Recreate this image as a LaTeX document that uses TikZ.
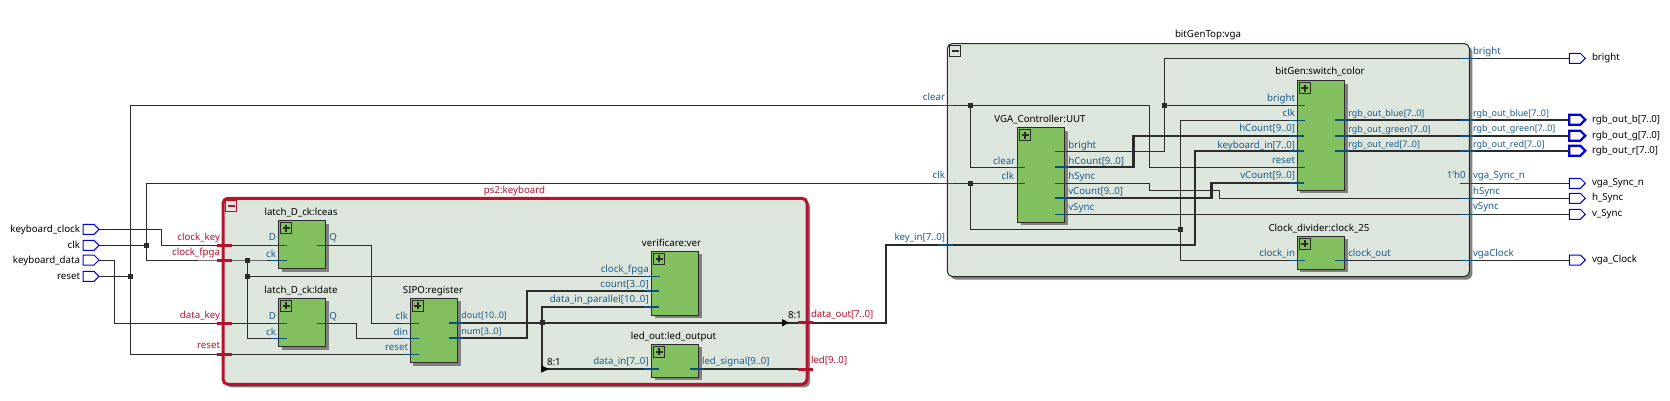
\documentclass[tikz,border=0pt]{standalone}
\usepackage{fontspec}
\setmainfont{Noto Sans}
\usetikzlibrary{shapes.symbols,shadows,calc}
\definecolor{wirec}{HTML}{2B2B2B}
\definecolor{stubc}{HTML}{0B4F80}
\definecolor{grpc}{HTML}{DDE6DD}
\definecolor{blkc}{HTML}{82BF5F}
\definecolor{redc}{HTML}{B5122F}
\definecolor{txtb}{HTML}{1D5C8C}
\definecolor{pinc}{HTML}{0000E6}
\newcommand\dd{\kern-.3pt.\kern.2pt.\kern-.3pt}
\tikzset{
 every node/.style={inner sep=0pt,outer sep=0pt,font=\fontsize{9.7}{10}\selectfont},
 wire/.style={draw=wirec,line width=1pt},
 bus/.style={draw=wirec,line width=2.4pt},
 stub/.style={draw=stubc,line width=1pt},
 bstub/.style={draw=stubc,line width=2.4pt},
 redbar/.style={draw=redc,line width=3pt},
 block/.style={draw=wirec,line width=1pt,fill=blkc,anchor=north west,general shadow={shadow xshift=3pt,shadow yshift=-3pt,fill=black!50}},
 group/.style={fill=grpc,anchor=north west,rounded corners=5pt,general shadow={shadow xshift=3pt,shadow yshift=-3pt,fill=black!50}},
 plusbox/.style={draw=wirec,line width=1pt,fill=blkc,anchor=north west,minimum size=11pt,
   path picture={\draw[line width=1.8pt,wirec] ([yshift=-2pt]path picture bounding box.north) -- ([yshift=2pt]path picture bounding box.south) ([xshift=2pt]path picture bounding box.west) -- ([xshift=-2pt]path picture bounding box.east);}},
 minusbox/.style={line width=1pt,anchor=north west,minimum size=11pt,
   path picture={\draw[line width=1.8pt,#1] ([xshift=2pt]path picture bounding box.west) -- ([xshift=-2pt]path picture bounding box.east);}},
 junc/.style={fill=wirec,minimum size=5pt},
 pin/.style={signal,signal to=east,draw=pinc,line width=1pt,minimum width=16pt,minimum height=10pt,anchor=west},
 bpin/.style={pin,line width=2.2pt},
 ttl/.style={anchor=base,text=black},
 le/.style={anchor=base east,text=txtb},
 lw/.style={anchor=base west,text=txtb},
 re/.style={anchor=base east,text=redc},
 rw/.style={anchor=base west,text=redc},
 pe/.style={anchor=base east,text=black},
 pw/.style={anchor=base west,text=black},
 nar/.style={font=\fontsize{9}{10}\selectfont},
 head/.style={fill=black}
}
\begin{document}
\begin{tikzpicture}[x=1pt,y=-1pt]
\useasboundingbox (0,0) rectangle (1670,400);
% groups
\node[group,draw=redc,line width=3pt,minimum width=584pt,minimum height=186pt] (ps) at (223,198.3) {};
\node[group,draw=wirec,line width=1pt,minimum width=522pt,minimum height=233pt] (vga) at (947.3,43.5) {};
\node[minusbox=redc,draw=redc] (psm) at (225.7,200.7) {};
\node[minusbox=wirec,draw=wirec] (vgam) at (949.5,45.7) {};
% blocks
\node[block,minimum width=47pt,minimum height=48pt] (ceas) at (278.5,220.7) {};
\node[block,minimum width=47pt,minimum height=48.4pt] (date) at (278.5,298.3) {};
\node[block,minimum width=47.4pt,minimum height=64.4pt] (sipo) at (410.3,298.3) {};
\node[block,minimum width=47pt,minimum height=64pt] (ver) at (651.7,251.3) {};
\node[block,minimum width=47pt,minimum height=33pt] (led) at (651.7,344.3) {};
\node[block,minimum width=47pt,minimum height=94.6pt] (uut) at (1017.7,127.7) {};
\node[block,minimum width=47.4pt,minimum height=109.6pt] (bit) at (1297.3,80.7) {};
\node[block,minimum width=47.4pt,minimum height=33pt] (div) at (1297.3,236.3) {};
\foreach \b in {ceas,date,sipo,ver,led,uut,bit,div}
  \node[plusbox] (p\b) at ($(\b.north west)+(2,2)$) {};
% pins
\node[pin] (iKc) at (83,229.3) {};
\node[pin] (iClk) at (83,245.3) {};
\node[pin] (iKd) at (83,260) {};
\node[pin] (iRst) at (83,276.3) {};
\node[pin] (oBright) at (1569.3,58.3) {};
\node[bpin] (oB) at (1569.3,119.7) {};
\node[bpin] (oG) at (1569.3,135.7) {};
\node[bpin] (oR) at (1569.3,150.7) {};
\node[pin] (oSn) at (1569.3,183.3) {};
\node[pin] (oHs) at (1569.3,198.3) {};
\node[pin] (oVs) at (1569.3,214.3) {};
\node[pin] (oClk) at (1569.3,260) {};
% junctions
\node[junc] (jClkOut) at (146.3,245.3) {};
\node[junc] (jRstOut) at (130.3,276.3) {};
\node[junc] (jFpga) at (247.5,260) {};
\node[junc] (jFpga2) at (247.5,276.3) {};
\node[junc] (jDout) at (542,322.7) {};
\node[junc] (jClear) at (970.3,105.3) {};
\node[junc] (jClk) at (970.3,183.3) {};
\node[junc] (jClk2) at (1180.7,229.3) {};
\node[junc] (jBright) at (1164.3,105.3) {};
% port coordinates
\coordinate (ceasD) at (287,245.3);
\coordinate (ceasCk) at (287,260);
\coordinate (ceasQ) at (317,245.3);
\coordinate (dateD) at (287,323.3);
\coordinate (dateCk) at (287,338.3);
\coordinate (dateQ) at (317,323.3);
\coordinate (sipoClk) at (419,323.3);
\coordinate (sipoDin) at (419,338.3);
\coordinate (sipoRst) at (419,354.3);
\coordinate (sipoDout) at (449,322.7);
\coordinate (sipoNum) at (449,338);
\coordinate (verFpga) at (660,276.3);
\coordinate (verCnt) at (659,290.7);
\coordinate (verData) at (659,306.7);
\coordinate (ledIn) at (659,369);
\coordinate (ledOut) at (690,369);
\coordinate (psOut) at (813,322.7);
\coordinate (psLed) at (813,369);
\coordinate (uClear) at (1025,167);
\coordinate (uClk) at (1025,183.3);
\coordinate (uBright) at (1055,151.3);
\coordinate (uH) at (1055,166.7);
\coordinate (uHs) at (1055,183.3);
\coordinate (uV) at (1055,197.7);
\coordinate (uVs) at (1055,214.3);
\coordinate (bBright) at (1305,105.3);
\coordinate (bClk) at (1305,120);
\coordinate (bH) at (1304,135.7);
\coordinate (bK) at (1304,151);
\coordinate (bRst) at (1305,167);
\coordinate (bV) at (1304,182.7);
\coordinate (bB) at (1335,119.7);
\coordinate (bG) at (1335,135.7);
\coordinate (bR) at (1335,150.7);
\coordinate (dIn) at (1305,260);
\coordinate (dOut) at (1335,260);
\coordinate (zero) at (1460,183.3);
% wires
\draw[wire] (iKc.east) -- (161.7,229.3) -- (161.7,245.3) -- (ceasD);
\draw[wire] (iClk.east) -- (jClkOut.center);
\draw[wire] (jClkOut.center) -- (146.3,183.3) -- (jClk.center);
\draw[wire] (jClkOut.center) -- (146.3,260) -- (jFpga.center) -- (ceasCk);
\draw[wire] (jFpga.center) -- (jFpga2.center) -- (247.5,338.3) -- (dateCk);
\draw[wire] (jFpga2.center) -- (verFpga);
\draw[wire] (iKd.east) -- (114.7,260) -- (114.7,323.3) -- (dateD);
\draw[wire] (iRst.east) -- (jRstOut.center);
\draw[wire] (jRstOut.center) -- (130.3,354.3) -- (sipoRst);
\draw[wire] (jRstOut.center) -- (130.3,105.3) -- (jClear.center);
\draw[wire] (ceasQ) -- (371.5,245.3) -- (371.5,323.3) -- (sipoClk);
\draw[wire] (dateQ) -- (356.3,323.3) -- (356.3,338.3) -- (sipoDin);
\draw[bus] (sipoDout) -- (jDout.center) -- (psOut);
\draw[bus] (sipoNum) -- (527,338) -- (527,290.7) -- (verCnt);
\draw[bus] (jDout.center) -- (542,306.7) -- (verData);
\draw[bus] (jDout.center) -- (542,369) -- (ledIn);
\draw[bus] (ledOut) -- (psLed);
\draw[bus] (psOut) -- (886,322.7) -- (886,245) -- (1195,245) -- (1195,151) -- (bK);
\draw[wire] (jClear.center) -- (970.3,167) -- (uClear);
\draw[wire] (jClear.center) -- (1149.3,105.3) -- (1149.3,167) -- (bRst);
\draw[wire] (jClk.center) -- (uClk);
\draw[wire] (jClk.center) -- (970.3,229.3) -- (jClk2.center);
\draw[wire] (bClk) -- (1180.7,120) -- (1180.7,260) -- (dIn);
\draw[wire] (uBright) -- (1164.3,151.3) -- (jBright.center) -- (bBright);
\draw[wire] (jBright.center) -- (1164.3,58.3) -- (oBright.west);
\draw[bus] (uH) -- (1133.3,166.7) -- (1133.3,135.7) -- (bH);
\draw[wire] (uHs) -- (1149.3,183.3) -- (1149.3,190.3) -- (1219.3,190.3) -- (1219.3,198.3) -- (oHs.west);
\draw[bus] (uV) -- (1211.3,197.7) -- (1211.3,182.7) -- (bV);
\draw[wire] (uVs) -- (oVs.west);
\draw[bus] (bB) -- (oB.west);
\draw[bus] (bG) -- (oG.west);
\draw[bus] (bR) -- (oR.west);
\draw[wire] (zero) -- (oSn.west);
\draw[wire] (dOut) -- (oClk.west);
% ripper heads
\fill[head] (782,319) -- (789,322.7) -- (782,326.4) -- cycle;
\fill[head] (541,365.3) -- (549,369) -- (541,372.7) -- cycle;
% stubs
\foreach \c in {ceasD,ceasCk,dateD,dateCk,sipoClk,sipoDin,sipoRst,verFpga,uClear,uClk,bBright,bClk,bRst,dIn}
  \draw[stub] (\c) -- ++(-16,0);
\foreach \c in {verCnt,verData,ledIn,bH,bK,bV}
  \draw[bstub] (\c) -- ++(-15,0);
\foreach \c in {ceasQ,dateQ,uBright,uHs,uVs,dOut}
  \draw[stub] (\c) -- ++(12,0);
\foreach \c in {sipoDout,sipoNum,ledOut,uH,uV,bB,bG,bR}
  \draw[bstub] (\c) -- ++(14,0);
% boundary stubs
\draw[stub] (938,105.3) -- (953,105.3);
\draw[stub] (938,183.3) -- (953,183.3);
\draw[bstub] (938,245) -- (953,245);
\draw[stub] (1460,58.3) -- (1475,58.3);
\draw[bstub] (1460,119.7) -- (1475,119.7);
\draw[bstub] (1460,135.7) -- (1475,135.7);
\draw[bstub] (1460,150.7) -- (1475,150.7);
\draw[stub] (1460,183.3) -- (1475,183.3);
\draw[stub] (1460,198.3) -- (1475,198.3);
\draw[stub] (1460,214.3) -- (1475,214.3);
\draw[stub] (1460,260) -- (1475,260);
% group port bars
\draw[redbar] (216.7,245.3) -- (231.5,245.3);
\draw[redbar] (216.7,260) -- (231.5,260);
\draw[redbar] (216.7,323.3) -- (231.5,323.3);
\draw[redbar] (216.7,354.3) -- (231.5,354.3);
\draw[redbar] (798,322.7) -- (813,322.7);
\draw[redbar] (798,369) -- (813,369);
% titles
\node[ttl] (tPs) at (514.5,193) {\color{redc}ps2:keyboard};
\node[ttl] (tVga) at (1208,37) {bitGenTop:vga};
\node[ttl] (tCeas) at (301,215) {latch\_D\_ck:lceas};
\node[ttl] (tDate) at (301,293) {latch\_D\_ck:ldate};
\node[ttl] (tSipo) at (433,293) {SIPO:register};
\node[ttl] (tVer) at (671.5,246) {verificare:ver};
\node[ttl] (tLed) at (673.5,339) {led\_out:led\_output};
\node[ttl] (tUut) at (1040,122) {VGA\_Controller:UUT};
\node[ttl] (tBit) at (1320,74) {bitGen:switch\_color};
\node[ttl] (tDiv) at (1319,231) {Clock\_divider:clock\_25};
% top pin labels
\node[pe] (lKc) at (80,232.5) {keyboard\_clock};
\node[pe] (lClk) at (80,248.5) {clk};
\node[pe] (lKd) at (80,263.5) {keyboard\_data};
\node[pe] (lRst) at (80,279.5) {reset};
\node[pw] (lBright) at (1592,60) {bright};
\node[pw] (lB) at (1592,122.3) {rgb\_out\_b[7\dd0]};
\node[pw] (lG) at (1592,138) {rgb\_out\_g[7\dd0]};
\node[pw] (lR) at (1592,153.3) {rgb\_out\_r[7\dd0]};
\node[pw] (lSn) at (1592,185) {vga\_Sync\_n};
\node[pw] (lHs) at (1592,200) {h\_Sync};
\node[pw] (lVs) at (1592,216) {v\_Sync};
\node[pw] (lCk) at (1592,262) {vga\_Clock};
% ps2 ports
\node[re] (rKey) at (220,240) {clock\_key};
\node[re] (rFpga) at (220,255.3) {clock\_fpga};
\node[re] (rData) at (220,318) {data\_key};
\node[re] (rRst) at (220,348.7) {reset};
\node[rw] (rOut) at (811,317.7) {data\_out[7\dd0]};
\node[rw] (rLed) at (811,363.7) {led[9\dd0]};
% latch labels
\node[le] (a1) at (276,240) {D};
\node[le] (a2) at (276,257) {ck};
\node[lw] (a3) at (329.3,240) {Q};
\node[le] (a4) at (276,319) {D};
\node[le] (a5) at (276,335) {ck};
\node[lw] (a6) at (329.3,319) {Q};
% sipo
\node[le] (s1) at (408,319) {clk};
\node[le] (s2) at (408,335) {din};
\node[le] (s3) at (408,350) {reset};
\node[lw,nar] (s4) at (461.3,318.7) {dout[10\dd0]};
\node[lw,nar] (s5) at (461.3,334.7) {num[3\dd0]};
% ver, led
\node[le] (v1) at (648.7,272) {clock\_fpga};
\node[le] (v2) at (648.7,287.7) {count[3\dd0]};
\node[le] (v3) at (648.7,302.7) {data\_in\_parallel[10\dd0]};
\node[le] (v4) at (648.7,364.7) {data\_in[7\dd0]};
\node[lw] (v5) at (702,364.7) {led\_signal[9\dd0]};
\node[anchor=base west,text=black] (v6) at (788,318.7) {8:1};
\node[anchor=base west,text=black] (v7) at (547,365) {8:1};
% vga boundary
\node[le] (g1) at (945,100) {clear};
\node[le] (g2) at (945,178) {clk};
\node[le] (g3) at (945,240) {key\_in[7\dd0]};
\node[lw] (g4) at (1473,54) {bright};
\node[lw,nar] (g5) at (1473,116) {rgb\_out\_blue[7\dd0]};
\node[lw,nar] (g6) at (1473,131.3) {rgb\_out\_green[7\dd0]};
\node[lw,nar] (g7) at (1473,147.3) {rgb\_out\_red[7\dd0]};
\node[lw] (g8) at (1473,178.3) {vga\_Sync\_n};
\node[lw] (g9) at (1473,194) {hSync};
\node[lw] (g10) at (1473,209.3) {vSync};
\node[lw] (g11) at (1473,256) {vgaClock};
\node[le] (g12) at (1465.7,178.3) {1'h0};
% uut
\node[le] (u1) at (1015.3,164) {clear};
\node[le] (u2) at (1014,179) {clk};
\node[lw] (u3) at (1068.3,148) {bright};
\node[lw] (u4) at (1068.3,164) {hCount[9\dd0]};
\node[lw] (u5) at (1068.3,179) {hSync};
\node[lw] (u6) at (1068.3,194.7) {vCount[9\dd0]};
\node[lw] (u7) at (1068.3,210) {vSync};
% bitgen
\node[le] (b1) at (1295,101) {bright};
\node[le] (b2) at (1295,116.7) {clk};
\node[le] (b3) at (1295,131.7) {hCount[9\dd0]};
\node[le] (b4) at (1295,148) {keyboard\_in[7\dd0]};
\node[le] (b5) at (1295,163) {reset};
\node[le] (b6) at (1295,178.7) {vCount[9\dd0]};
\node[lw,nar] (b7) at (1348.3,116.7) {rgb\_out\_blue[7\dd0]};
\node[lw,nar] (b8) at (1348.3,132) {rgb\_out\_green[7\dd0]};
\node[lw,nar] (b9) at (1348.3,147.7) {rgb\_out\_red[7\dd0]};
\node[le] (d1) at (1295,256.7) {clock\_in};
\node[lw] (d2) at (1348.3,256.7) {clock\_out};
\end{tikzpicture}
\end{document}
